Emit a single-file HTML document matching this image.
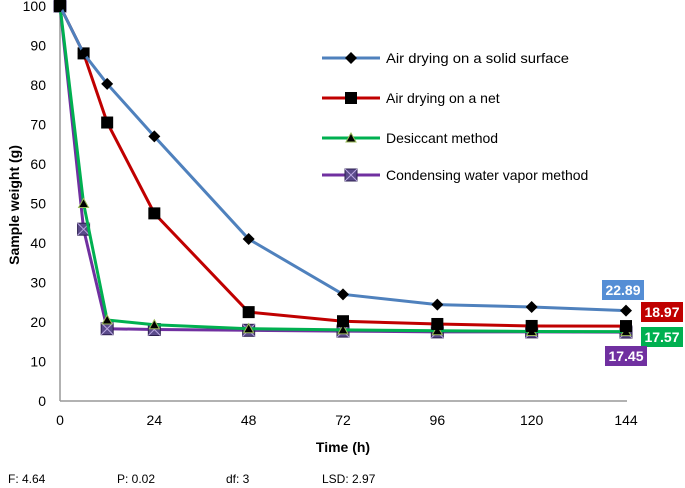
<!DOCTYPE html>
<html><head><meta charset="utf-8"><style>
body{margin:0;background:#fff;}
svg{display:block;font-family:"Liberation Sans",sans-serif;}
</style></head><body>
<svg id="c" width="685" height="488">
<line x1="60" y1="6" x2="60" y2="401" stroke="#999" stroke-width="1.5"/>
<line x1="60" y1="401" x2="627" y2="401" stroke="#999" stroke-width="1.5"/>
<g id="yt"></g><g id="xt"></g><g id="series"></g>
<text x="0" y="0" transform="translate(19,205) rotate(-90)" text-anchor="middle" font-size="14" font-weight="bold">Sample weight (g)</text>
<text x="343" y="452" text-anchor="middle" font-size="14" font-weight="bold">Time (h)</text>
<g id="legend"></g><g id="endlabels"></g>
<g font-size="12">
<text x="8" y="483">F: 4.64</text>
<text x="117" y="483">P: 0.02</text>
<text x="226" y="483">df: 3</text>
<text x="322" y="483">LSD: 2.97</text>
</g>
</svg>
<script>
const times=[0,6,12,24,48,72,96,120,144];
const xTicks=[0,24,48,72,96,120,144];
const yTicks=[0,10,20,30,40,50,60,70,80,90,100];
const solid=[100,88,80.3,67,41,27,24.4,23.8,22.89];
const net=[100,88,70.5,47.5,22.5,20.2,19.5,19.0,18.97];
const desic=[100,50,20.5,19.3,18.3,18,17.8,17.6,17.57];
const cond=[100,43.5,18.3,18.1,17.9,17.7,17.5,17.5,17.45];
const names=["Air drying on a solid surface","Air drying on a net","Desiccant method","Condensing water vapor method"];
const ns="http://www.w3.org/2000/svg";
const X=t=>60+t*(566/144), Y=v=>401-v*3.95;
function mk(tag,attrs,parent,txt){const e=document.createElementNS(ns,tag);for(const k in attrs)e.setAttribute(k,attrs[k]);if(txt!=null)e.textContent=txt;parent.appendChild(e);return e;}
const yt=document.getElementById('yt'),xt=document.getElementById('xt');
yTicks.forEach(v=>{const e=mk('text',{x:46,y:Y(v)+5,'text-anchor':'end','font-size':14},yt,v);

});
xTicks.forEach(v=>{const e=mk('text',{x:X(v),y:425,'text-anchor':'middle','font-size':14},xt,v);

});
function marker(g,type,x,y,col){
 let e;
 if(type==='d'){e=mk('polygon',{points:`${x},${y-6} ${x+6},${y} ${x},${y+6} ${x-6},${y}`,fill:'#000'},g);}
 else if(type==='s'){e=mk('rect',{x:x-6,y:y-6,width:12,height:12,fill:'#000'},g);}
 else if(type==='t'){e=mk('polygon',{points:`${x},${y-5} ${x+5},${y+4} ${x-5},${y+4}`,fill:'#000',stroke:'#9bbb59','stroke-width':1},g);}
 else {e=mk('rect',{x:x-6,y:y-6,width:12,height:12,fill:'#5a4a8a',stroke:'#2d2050','stroke-width':1},g);
  mk('path',{d:`M${x-6},${y-6}L${x+6},${y+6}M${x+6},${y-6}L${x-6},${y+6}`,stroke:'#b9a6e0','stroke-width':1},g);}
 
 
}
const series=[[solid,'#4f81bd','d','series-solid-surface'],[net,'#c00000','s','series-net'],[desic,'#00b050','t','series-desiccant'],[cond,'#7030a0','x','series-condensing']];
const sg=document.getElementById('series');
[3,2,1,0].forEach(i=>{const [d,c,m,n]=series[i];
 const g=mk('g',{},sg);
 
 
 const p=mk('polyline',{points:d.map((v,j)=>X(times[j])+','+Y(v)).join(' '),fill:'none',stroke:c,'stroke-width':3},g);
 
 
 d.forEach((v,j)=>marker(g,m,X(times[j]),Y(v),c));
});
const lg=document.getElementById('legend');
const ly=[58,98,138,175];
series.forEach(([d,c,m],i)=>{const g=mk('g',{},lg);
 
 
 mk('line',{x1:322,y1:ly[i],x2:380,y2:ly[i],stroke:c,'stroke-width':3},g);
 marker(g,m,351,ly[i],c);
 mk('text',{x:386,y:ly[i]+5,'font-size':14,textLength:i===0?183:null,lengthAdjust:'spacingAndGlyphs'},g,names[i]);
});
lg.querySelectorAll('text').forEach(t=>{if(t.getAttribute('textLength')==='null')t.removeAttribute('textLength');});
const el=document.getElementById('endlabels');
const lb=[[602,280,'#558ed5'],[641,302,'#c00000'],[641,327,'#00b050'],[605,346,'#7030a0']];
series.forEach(([d],i)=>{const [x,y,c]=lb[i];const g=mk('g',{},el);
 
 
 mk('rect',{x:x,y:y,width:42,height:20,fill:c},g);
 mk('text',{x:x+21,y:y+15,'text-anchor':'middle','font-size':14,'font-weight':'bold',fill:'#fff'},g,d[d.length-1].toFixed(2));
});
</script>
</body></html>
